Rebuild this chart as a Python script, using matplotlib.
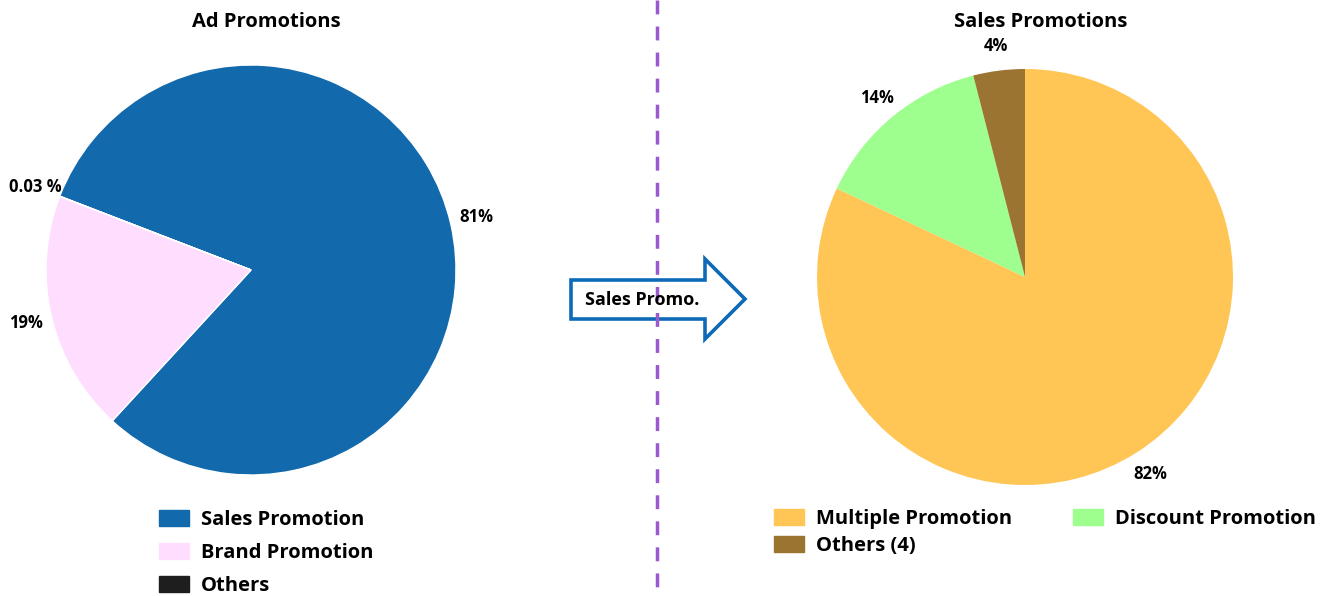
import matplotlib
matplotlib.use("Agg")
import matplotlib.pyplot as plt
import numpy as np
from matplotlib.patches import Polygon, Patch

plt.rcParams['font.family'] = ['Open Sans', 'DejaVu Sans']
plt.rcParams['font.weight'] = 'bold'

# left pie: ad promotions
ad_names = ['Sales Promotion', 'Others', 'Brand Promotion']
ad_values = [80.97, 0.03, 19.0]
ad_labels = ['81%', '0.03 %', '19%']
ad_colors = ['#1269AB', '#1E1E1E', '#FFDDFF']

# right pie: sales promotions
sp_names = ['Multiple Promotion', 'Discount Promotion', 'Others (4)']
sp_values = [82, 14, 4]
sp_labels = ['82%', '14%', '4%']
sp_colors = ['#FFC655', '#9EFF8E', '#9C7431']

W, H = 1327, 596
fig = plt.figure(figsize=(W / 100, H / 100), dpi=100)

def pix_axes(cx, cy, r, lim=1.2):
    s = 2 * lim * r
    ax = fig.add_axes([(cx - s / 2) / W, (H - cy - s / 2) / H, s / W, s / H])
    return ax

def fix(ax, lim=1.2):
    ax.set_xlim(-lim, lim)
    ax.set_ylim(-lim, lim)
    ax.set_aspect('equal')
    ax.axis('off')

ax1 = pix_axes(251, 270, 205)
w1, t1 = ax1.pie(ad_values, labels=ad_labels, colors=ad_colors, startangle=227.4,
                 labeldistance=1.13, wedgeprops=dict(edgecolor='white', linewidth=1),
                 textprops=dict(fontsize=12, fontweight='bold'))
fix(ax1)
for t in t1:
    t.set_ha('center')
fig.text(266 / W, 1 - 22 / H, 'Ad Promotions', ha='center', va='center', fontsize=14.5, fontweight='bold')
fig.legend([Patch(color=c) for c in [ad_colors[0], ad_colors[2], ad_colors[1]]],
           [ad_names[0], ad_names[2], ad_names[1]],
           loc='upper left', bbox_to_anchor=(159 / W, 1 - 510 / H), frameon=False, fontsize=14.5,
           handlelength=1.5, handleheight=0.8, labelspacing=0.65, handletextpad=0.6,
           borderpad=0, borderaxespad=0)

ax2 = pix_axes(1025, 277, 208)
w2, t2 = ax2.pie(sp_values, labels=sp_labels, colors=sp_colors, startangle=90,
                 counterclock=False, labeldistance=1.12,
                 textprops=dict(fontsize=12, fontweight='bold'))
fix(ax2)
for t in t2:
    t.set_ha('center')
fig.text(1041 / W, 1 - 22 / H, 'Sales Promotions', ha='center', va='center', fontsize=14.5, fontweight='bold')
order = [0, 2, 1]
fig.legend([Patch(color=sp_colors[i]) for i in order], [sp_names[i] for i in order],
           loc='upper left', bbox_to_anchor=(774 / W, 1 - 509 / H), frameon=False, fontsize=14.5, ncol=2,
           handlelength=1.5, handleheight=0.8, labelspacing=0.35, handletextpad=0.6,
           columnspacing=3.0, borderpad=0, borderaxespad=0)

# overlay: divider and arrow
ov = fig.add_axes([0, 0, 1, 1], zorder=5)
ov.set_xlim(0, W)
ov.set_ylim(H, 0)
ov.axis('off')
ov.plot([657, 657], [0, H], color='#9B59D0', lw=2.5, linestyle=(0, (4, 3.5)))
arrow = [(571, 280), (705, 280), (705, 259), (745, 299), (705, 339), (705, 319), (571, 319)]
ov.add_patch(Polygon(arrow, closed=True, facecolor='white', edgecolor='#0E6AB7', lw=2.6,
                     joinstyle='miter'))
ov.text(642, 300, 'Sales Promo.', ha='center', va='center', fontsize=13, fontweight='bold')

fig.savefig('out.png', dpi=100)
